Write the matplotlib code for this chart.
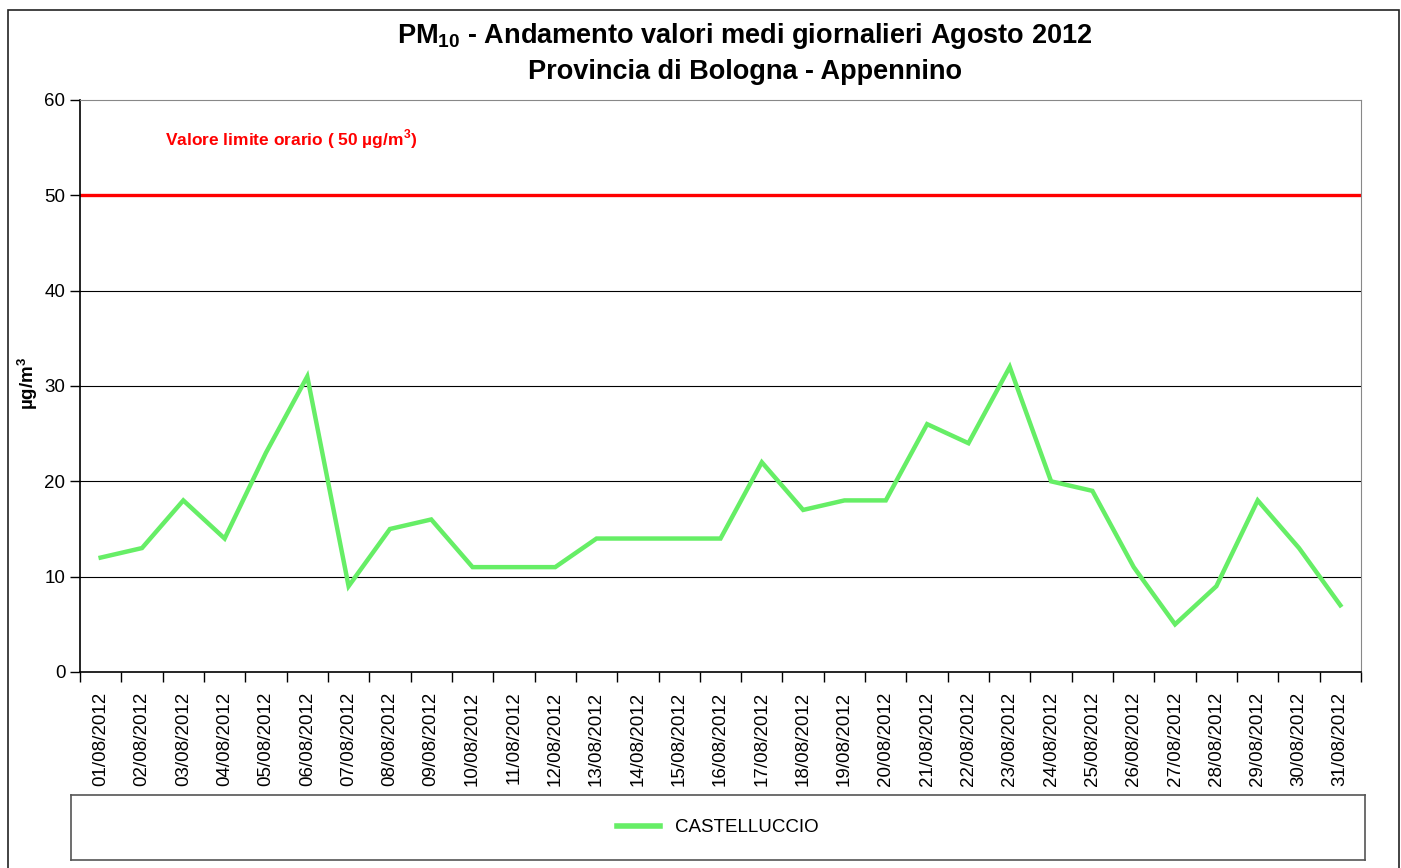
import matplotlib.pyplot as plt
from matplotlib.patches import Rectangle
from matplotlib.lines import Line2D

plt.rcParams['font.family'] = ['Liberation Sans', 'DejaVu Sans']
plt.rcParams['mathtext.fontset'] = 'custom'
plt.rcParams['mathtext.rm'] = 'Liberation Sans'
plt.rcParams['mathtext.bf'] = 'Liberation Sans:bold'

# Daily mean PM10 values, August 2012
dates = ['%02d/08/2012' % d for d in range(1, 32)]
castelluccio = [12, 13, 18, 14, 23, 31, 9, 15, 16, 11, 11, 11, 14, 14, 14, 14,
                22, 17, 18, 18, 26, 24, 32, 20, 19, 11, 5, 9, 18, 13, 7]
limit_value = 50
yticks = [0, 10, 20, 30, 40, 50, 60]

W, H = 1401, 868
fig = plt.figure(figsize=(W / 100, H / 100), dpi=100)

# outer border of the chart
fig.patches.append(Rectangle((8 / W, -0.01), (1399 - 8) / W, (H - 10) / H + 0.01,
                             transform=fig.transFigure, fill=False,
                             edgecolor='#222222', linewidth=1.2))

ax = fig.add_axes([80 / W, 1 - 672 / H, (1361 - 80) / W, (672 - 100) / H])
x = list(range(len(dates)))

for v in yticks[1:-2]:
    ax.axhline(v, color='black', linewidth=0.8, zorder=1)
ax.axhline(limit_value, color='#ff0000', linewidth=2.4, zorder=2)
ax.plot(x, castelluccio, color='#66ee66', linewidth=3.2, zorder=3,
        solid_joinstyle='miter', label='CASTELLUCCIO')

ax.text(85 / (1361 - 80), (672 - 139) / (672 - 100),
        r'Valore limite orario ( 50 µg/m$^{\mathbf{3}}$)', transform=ax.transAxes,
        color='#ff0000', fontsize=12.5, fontweight='bold', va='center', ha='left')

ax.set_xlim(-0.5, len(dates) - 0.5)
ax.set_ylim(0, 60)
ax.set_yticks(yticks)
ax.set_xticks(x)
ax.set_xticklabels(dates, rotation=90, fontsize=13.5)
ax.set_xticks([i - 0.5 for i in range(len(dates) + 1)], minor=True)
ax.tick_params(axis='x', which='major', length=0, pad=14)
ax.tick_params(axis='x', which='minor', length=7, width=1, direction='out')
ax.tick_params(axis='y', labelsize=13.5, length=7, width=1, direction='out')
ax.spines['top'].set_color('#888888')
ax.spines['right'].set_color('#888888')
for s in ['left', 'bottom']:
    ax.spines[s].set_linewidth(1.2)

ax.set_ylabel(r'µg/m$^{\mathbf{3}}$', fontsize=13.5, fontweight='bold')
ax.yaxis.set_label_coords(-0.031, 0.505)

fig.text(745 / W, 1 - 36 / H,
         r'PM$_{\mathbf{10}}$ - Andamento valori medi giornalieri Agosto 2012',
         ha='center', va='center', fontsize=19.5, fontweight='bold')
fig.text(745 / W, 1 - 72 / H, 'Provincia di Bologna - Appennino',
         ha='center', va='center', fontsize=19.5, fontweight='bold')

# legend box below the plot
lax = fig.add_axes([71 / W, 1 - 860 / H, (1365 - 71) / W, (860 - 795) / H])
lax.set_xticks([])
lax.set_yticks([])
for s in lax.spines.values():
    s.set_color('#555555')
    s.set_linewidth(1.2)
handle = Line2D([], [], color='#66ee66', linewidth=4)
lax.legend([handle], ['CASTELLUCCIO'], loc='center', frameon=False,
           fontsize=13.5, handlelength=2.3, handletextpad=0.8,
           bbox_to_anchor=(0.5, 0.5))

fig.savefig('out.png', dpi=100)
